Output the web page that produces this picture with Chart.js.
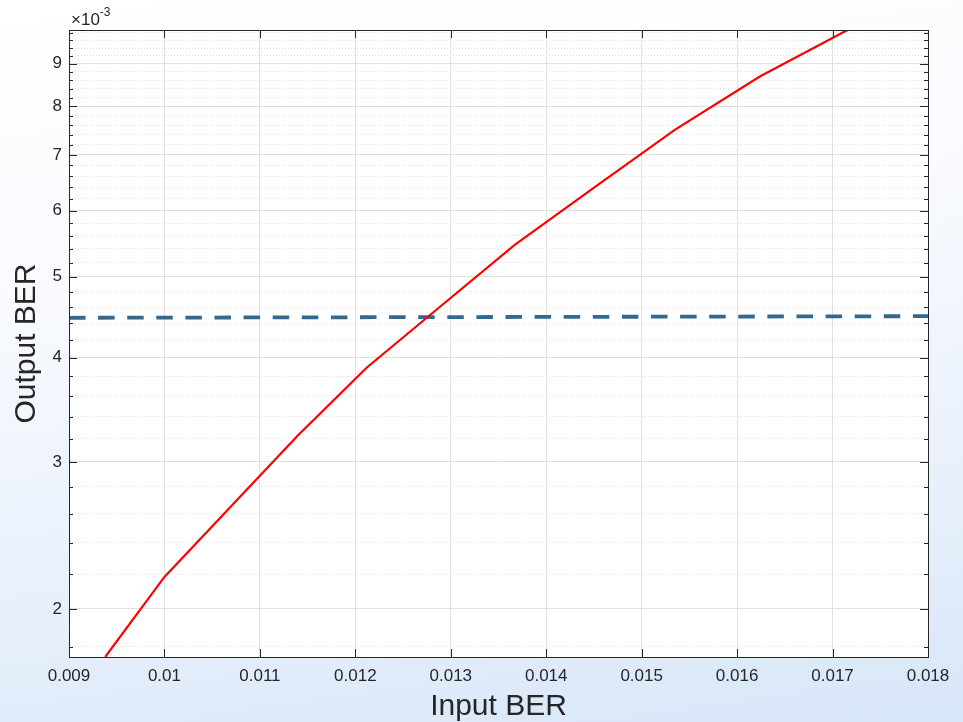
<!DOCTYPE html>
<html>
<head>
<meta charset="utf-8">
<script src="https://cdn.jsdelivr.net/npm/chart.js@4.4.1/dist/chart.umd.min.js"></script>
<style>
    html, body { margin: 0; padding: 0; }
    body {
        width: 963px; height: 722px; overflow: hidden;
        background: linear-gradient(172deg, #ffffff 0%, #f8fafe 35%, #e8f0fb 72%, #d7e6f8 100%);
    }
    canvas { display: block; }
</style>
</head>
<body>
<canvas id="berChart" width="963" height="722"></canvas>
<script>
// measured curve: output BER vs input BER
const inputBer = [0.009379, 0.0100, 0.011395, 0.012118, 0.012884, 0.01367, 0.01453, 0.015347, 0.016238, 0.017157];
const outputBer = [1.751e-3, 2.184e-3, 3.224e-3, 3.89e-3, 4.60e-3, 5.46e-3, 6.43e-3, 7.50e-3, 8.69e-3, 9.88e-3];

// threshold (dashed line)
const thresholdX = [0.009, 0.018];
const thresholdY = [4.465e-3, 4.485e-3];

// axes
const xTickValues = [0.009, 0.010, 0.011, 0.012, 0.013, 0.014, 0.015, 0.016, 0.017, 0.018];
const xTickLabels = ['0.009', '0.01', '0.011', '0.012', '0.013', '0.014', '0.015', '0.016', '0.017', '0.018'];
const yTickValues = [2e-3, 3e-3, 4e-3, 5e-3, 6e-3, 7e-3, 8e-3, 9e-3];
const yTickLabels = ['2', '3', '4', '5', '6', '7', '8', '9'];
const yMinorStep = 0.2e-3;
const yExponent = '-3';

const axisColor = '#262626';
const fontFamily = '"Liberation Sans", Arial, Helvetica, sans-serif';

// white plot box, inward ticks on all four sides, exponent label
const matlabBox = {
    id: 'matlabBox',
    beforeDraw(chart) {
        const { ctx, chartArea: a } = chart;
        ctx.save();
        ctx.fillStyle = '#ffffff';
        ctx.fillRect(a.left, a.top, a.right - a.left, a.bottom - a.top);
        ctx.restore();
    },
    afterDraw(chart) {
        const { ctx, chartArea: a, scales: { x, y } } = chart;
        ctx.save();
        ctx.strokeStyle = axisColor;
        ctx.lineWidth = 1;
        ctx.beginPath();
        x.ticks.forEach(t => {
            const px = Math.round(x.getPixelForValue(t.value)) + 0.5;
            ctx.moveTo(px, a.bottom); ctx.lineTo(px, a.bottom - 8);
            ctx.moveTo(px, a.top); ctx.lineTo(px, a.top + 8);
        });
        y.ticks.forEach(t => {
            const py = Math.round(y.getPixelForValue(t.value)) + 0.5;
            const len = t.major ? 8 : 4;
            ctx.moveTo(a.left, py); ctx.lineTo(a.left + len, py);
            ctx.moveTo(a.right, py); ctx.lineTo(a.right - len, py);
        });
        ctx.stroke();
        ctx.strokeRect(Math.round(a.left) + 0.5, Math.round(a.top) + 0.5,
            Math.round(a.right - a.left), Math.round(a.bottom - a.top));

        // x10^-3 exponent
        ctx.fillStyle = axisColor;
        ctx.textBaseline = 'alphabetic';
        ctx.textAlign = 'left';
        ctx.font = '17px ' + fontFamily;
        const base = '\u00d710';
        ctx.fillText(base, a.left + 2, a.top - 5);
        const w = ctx.measureText(base).width;
        ctx.font = '12px ' + fontFamily;
        ctx.fillText(yExponent, a.left + 2 + w, a.top - 14);
        ctx.restore();
    }
};

new Chart(document.getElementById('berChart'), {
    type: 'line',
    data: {
        datasets: [
            {
                label: 'Output BER',
                data: inputBer.map((v, i) => ({ x: v, y: outputBer[i] })),
                borderColor: '#ff0000',
                borderWidth: 2.2,
                pointRadius: 0,
                tension: 0
            },
            {
                label: 'Threshold',
                data: thresholdX.map((v, i) => ({ x: v, y: thresholdY[i] })),
                borderColor: '#33698e',
                borderWidth: 3.8,
                borderDash: [16.5, 12.6],
                pointRadius: 0,
                tension: 0
            }
        ]
    },
    options: {
        responsive: false,
        animation: false,
        devicePixelRatio: 1,
        layout: { padding: { left: 0, right: 35, top: 30, bottom: 0 } },
        plugins: { legend: { display: false }, tooltip: { enabled: false } },
        scales: {
            x: {
                type: 'linear',
                min: xTickValues[0],
                max: xTickValues[xTickValues.length - 1],
                afterFit: s => { s.height = 65; },
                afterBuildTicks: s => { s.ticks = xTickValues.map(v => ({ value: v })); },
                ticks: {
                    autoSkip: false,
                    maxRotation: 0,
                    padding: 9,
                    color: axisColor,
                    font: { family: fontFamily, size: 17 },
                    callback: (v, i) => xTickLabels[i]
                },
                grid: { color: '#e2e2e2', lineWidth: 1, drawTicks: false },
                border: { display: false },
                title: {
                    display: true,
                    text: 'Input BER',
                    color: axisColor,
                    font: { family: fontFamily, size: 30, lineHeight: 1 },
                    padding: { top: 0, bottom: 0 }
                }
            },
            y: {
                type: 'logarithmic',
                min: Math.min(...outputBer),
                max: Math.max(...outputBer),
                afterFit: s => { s.width = 69; },
                afterBuildTicks: s => {
                    const ticks = [];
                    for (let k = 9; k * yMinorStep <= s.max + 1e-12; k++) {
                        const v = k * yMinorStep;
                        if (v < s.min) continue;
                        const major = yTickValues.some(t => Math.abs(t - v) < 1e-9);
                        ticks.push({ value: v, major });
                    }
                    s.ticks = ticks;
                },
                ticks: {
                    autoSkip: false,
                    padding: 7,
                    color: axisColor,
                    font: { family: fontFamily, size: 17 },
                    callback: function (v) {
                        const j = yTickValues.findIndex(t => Math.abs(t - v) < 1e-9);
                        return j >= 0 ? yTickLabels[j] : '';
                    }
                },
                grid: {
                    drawTicks: false,
                    lineWidth: 1,
                    color: c => (c.tick && c.tick.major) ? '#e0e0e0' : '#dedede'
                },
                border: {
                    display: false,
                    dash: c => (c.tick && c.tick.major) ? [] : [1, 2]
                },
                title: {
                    display: true,
                    text: 'Output BER',
                    color: axisColor,
                    font: { family: fontFamily, size: 30 },
                    padding: { top: 9, bottom: 0 }
                }
            }
        }
    },
    plugins: [matlabBox]
});
</script>
</body>
</html>
